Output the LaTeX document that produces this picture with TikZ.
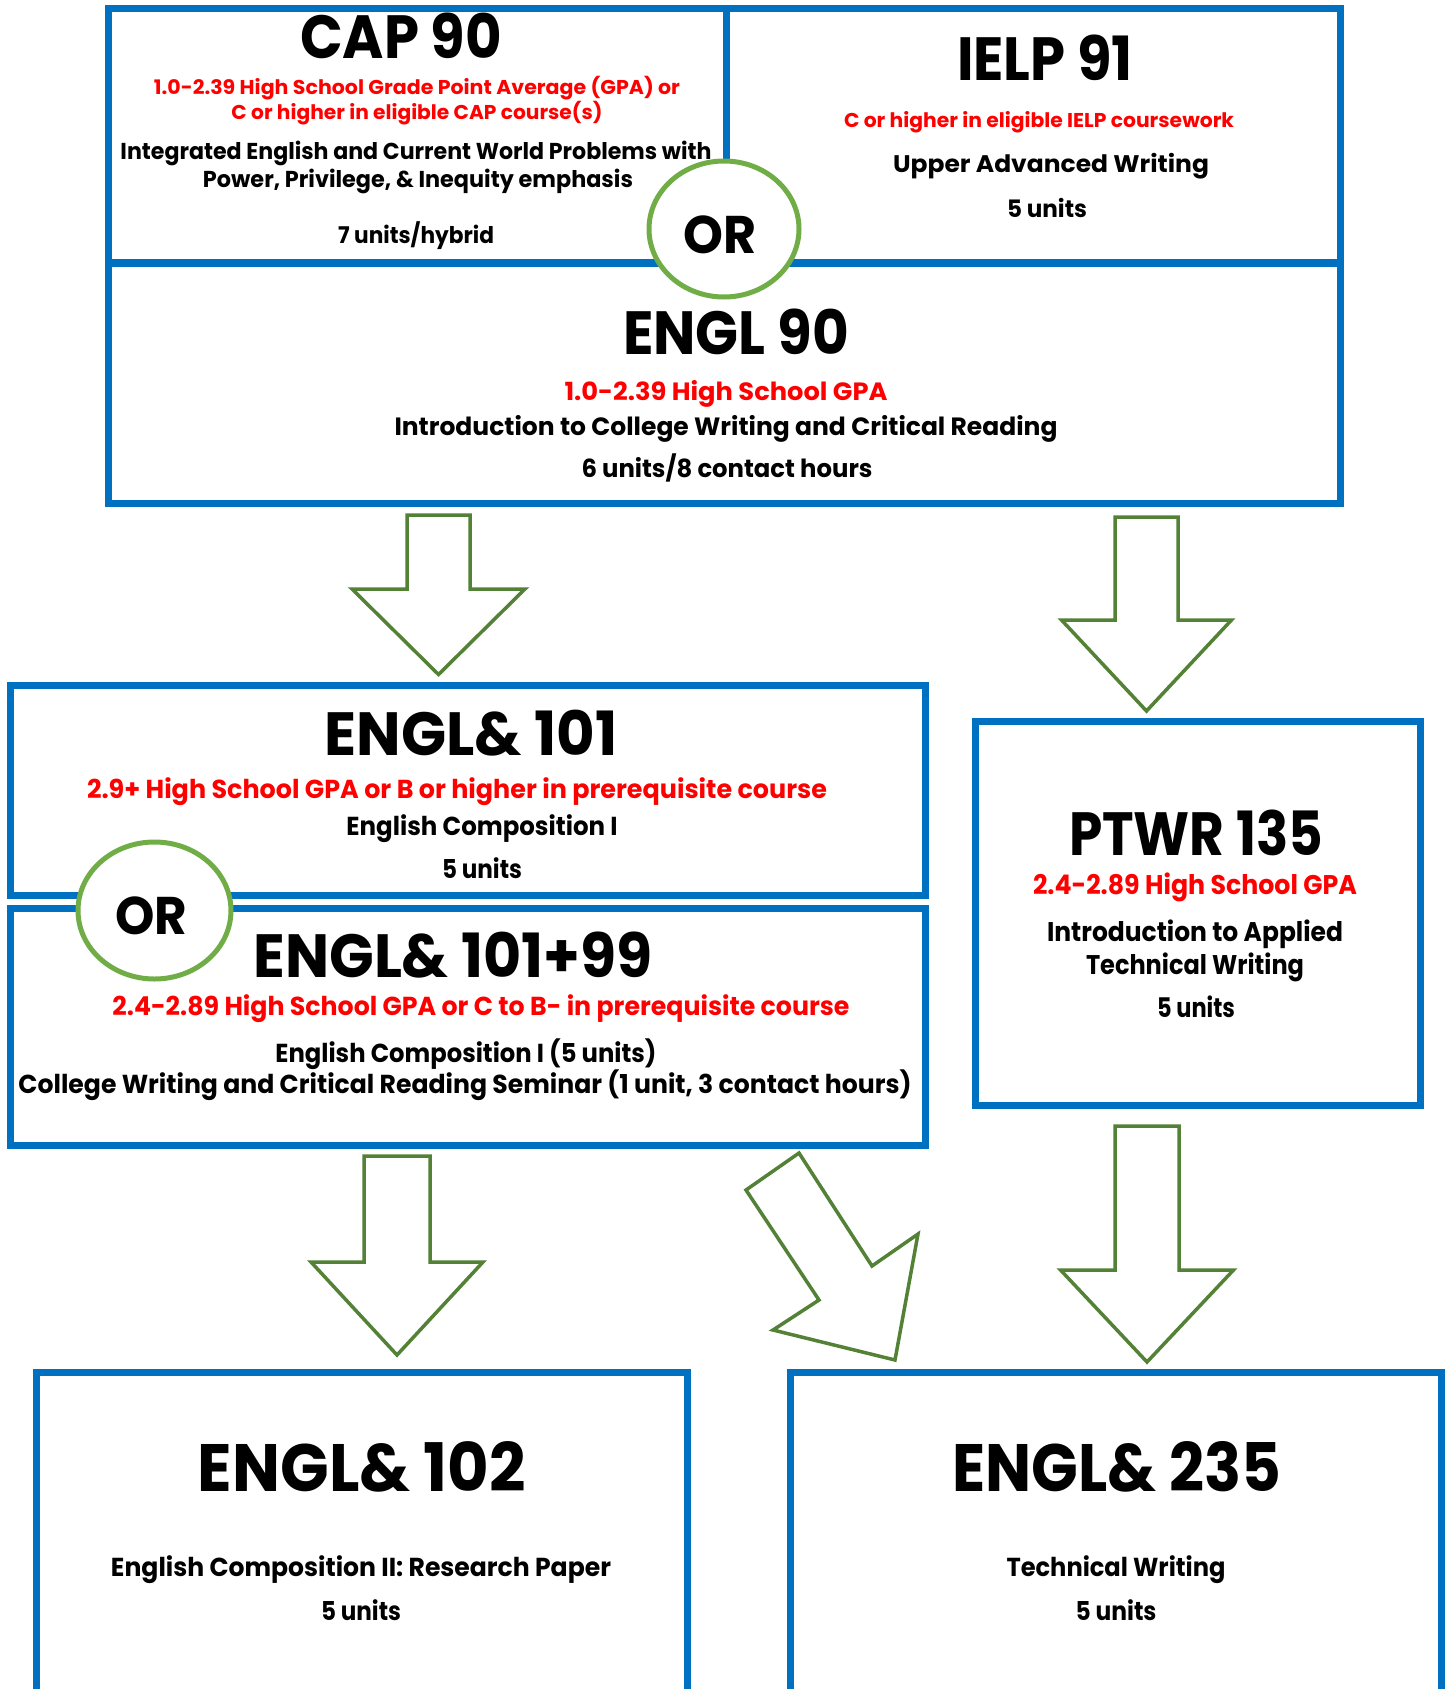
\documentclass[tikz,border=0pt]{standalone}
\usepackage{fontspec}
\setmainfont{Poppins}
\usepackage{graphicx}
\usetikzlibrary{shapes.geometric}
\definecolor{boxblue}{HTML}{0070C0}
\definecolor{orgreen}{HTML}{70AD47}
\definecolor{arrgreen}{HTML}{538135}
\definecolor{reqred}{HTML}{FF0000}
\newcommand\fitw[2]{\resizebox{#1pt}{\height}{#2}}
\newcommand\dblk[6]{\draw[blk] (#1-#3,#2) -- (#1+#3,#2) -- (#1+#3,#4) -- (#1+#5,#4) -- (#1,#6) -- (#1-#5,#4) -- (#1-#3,#4) -- cycle;}
\tikzset{
  cbox/.style={draw=boxblue, line width=7pt, rectangle, inner sep=0pt, outer sep=0pt},
  orc/.style={draw=orgreen, line width=5pt, fill=white, ellipse, inner sep=0pt},
  blk/.style={draw=arrgreen, line width=3.5pt, fill=white, line join=miter},
  lbl/.style={anchor=base, inner sep=0pt, outer sep=0pt},
  ttl/.style={lbl, font=\fontsize{61}{70}\selectfont\bfseries},
  bigttl/.style={lbl, font=\fontsize{67}{76}\selectfont\bfseries},
  red/.style={text=reqred},
}
\begin{document}
\begin{tikzpicture}[x=1pt,y=-1pt]
\useasboundingbox (0,0) rectangle (1447,1689);
\clip (0,0) rectangle (1447,1689);
% boxes
\node[cbox, minimum width=618pt, minimum height=254pt] (capbox) at (417,135) {};
\node[cbox, minimum width=614pt, minimum height=254pt] (ielpbox) at (1033,135) {};
\node[cbox, minimum width=1232pt, minimum height=240pt] (e90box) at (724,383) {};
\node[cbox, minimum width=915pt, minimum height=210pt] (e101box) at (467.5,790) {};
\node[cbox, minimum width=915pt, minimum height=237pt] (e199box) at (467.5,1026.5) {};
\node[cbox, minimum width=445pt, minimum height=384pt] (ptwrbox) at (1197.5,913) {};
\node[cbox, minimum width=651pt, minimum height=348pt] (e102box) at (361.5,1546) {};
\node[cbox, minimum width=651pt, minimum height=348pt] (e235box) at (1115.5,1546) {};
% OR circles
\node[orc, minimum width=150pt, minimum height=136pt] (or1) at (724,229) {};
\node[orc, minimum width=153pt, minimum height=137pt] (or2) at (154.5,910.5) {};
\node[lbl, font=\fontsize{53}{60}\selectfont\bfseries] (or1t) at (720,253) {\fitw{73}{OR}};
\node[lbl, font=\fontsize{53}{60}\selectfont\bfseries] (or2t) at (151,934) {\fitw{72}{OR}};
% arrows
\dblk{438.5}{515}{31.5}{589}{86.5}{674.5}
\dblk{1146.5}{517}{31.5}{620}{85}{711}
\dblk{397}{1156}{33}{1262}{86}{1355}
\dblk{1147}{1126}{32}{1270}{86.5}{1362}
\draw[blk] (799,1153) -- (872,1266) -- (918,1234) -- (895,1360) -- (773,1330) -- (819,1300) -- (746,1190) -- cycle;
% CAP 90
\node[ttl] (capt) at (401,58) {\fitw{202}{CAP 90}};
\node[lbl, red, font=\fontsize{20}{24}\selectfont\bfseries] (capr1) at (417,94) {\fitw{526}{1.0-2.39 High School Grade Point Average (GPA) or}};
\node[lbl, red, font=\fontsize{20}{24}\selectfont\bfseries] (capr2) at (417,119.5) {\fitw{371}{C or higher in eligible CAP course(s)}};
\node[lbl, font=\fontsize{23}{27}\selectfont\bfseries] (capb1) at (416,159) {\fitw{591}{Integrated English and Current World Problems with}};
\node[lbl, font=\fontsize{23}{27}\selectfont\bfseries] (capb2) at (418,187) {\fitw{430}{Power, Privilege, \& Inequity emphasis}};
\node[lbl, font=\fontsize{23}{27}\selectfont\bfseries] (capu) at (416,243) {\fitw{156}{7 units/hybrid}};
% IELP 91
\node[ttl] (ielpt) at (1045,80) {\fitw{176}{IELP 91}};
\node[lbl, red, font=\fontsize{20}{24}\selectfont\bfseries] (ielpr) at (1039,127.5) {\fitw{390}{C or higher in eligible IELP coursework}};
\node[lbl, font=\fontsize{24}{28}\selectfont\bfseries] (ielpb) at (1051,172) {\fitw{316}{Upper Advanced Writing}};
\node[lbl, font=\fontsize{24}{28}\selectfont\bfseries] (ielpu) at (1047,217) {\fitw{80}{5 units}};
% ENGL 90
\node[ttl] (e90t) at (736,354) {\fitw{226}{ENGL 90}};
\node[lbl, red, font=\fontsize{25}{29}\selectfont\bfseries] (e90r) at (726,400) {\fitw{323}{1.0-2.39 High School GPA}};
\node[lbl, font=\fontsize{25}{29}\selectfont\bfseries] (e90b) at (726,435) {\fitw{663}{Introduction to College Writing and Critical Reading}};
\node[lbl, font=\fontsize{25}{29}\selectfont\bfseries] (e90u) at (727,477) {\fitw{291}{6 units/8 contact hours}};
% ENGL& 101
\node[ttl] (e101t) at (471,755) {\fitw{293}{ENGL\& 101}};
\node[lbl, red, font=\fontsize{26}{30}\selectfont\bfseries] (e101r) at (457,798) {\fitw{740}{2.9+ High School GPA or B or higher in prerequisite course}};
\node[lbl, font=\fontsize{26}{30}\selectfont\bfseries] (e101b) at (482,835) {\fitw{271}{English Composition I}};
\node[lbl, font=\fontsize{26}{30}\selectfont\bfseries] (e101u) at (482,878) {\fitw{80}{5 units}};
% ENGL& 101+99
\node[ttl] (e199t) at (453,977) {\fitw{399}{ENGL\& 101+99}};
\node[lbl, red, font=\fontsize{26}{30}\selectfont\bfseries] (e199r) at (481,1015) {\fitw{737}{2.4-2.89 High School GPA or C to B- in prerequisite course}};
\node[lbl, font=\fontsize{26}{30}\selectfont\bfseries] (e199b1) at (466,1062) {\fitw{381}{English Composition I (5 units)}};
\node[lbl, font=\fontsize{26}{30}\selectfont\bfseries] (e199b2) at (465,1093) {\fitw{893}{College Writing and Critical Reading Seminar (1 unit, 3 contact hours)}};
% PTWR 135
\node[ttl] (ptwrt) at (1196,855) {\fitw{254}{PTWR 135}};
\node[lbl, red, font=\fontsize{27}{31}\selectfont\bfseries] (ptwrr) at (1195,894) {\fitw{324}{2.4-2.89 High School GPA}};
\node[lbl, font=\fontsize{27}{31}\selectfont\bfseries] (ptwrb1) at (1195,941) {\fitw{296}{Introduction to Applied}};
\node[lbl, font=\fontsize{27}{31}\selectfont\bfseries] (ptwrb2) at (1195,974) {\fitw{218}{Technical Writing}};
\node[lbl, font=\fontsize{27}{31}\selectfont\bfseries] (ptwru) at (1196,1017.5) {\fitw{78}{5 units}};
% ENGL& 102
\node[bigttl] (e102t) at (362,1491) {\fitw{328}{ENGL\& 102}};
\node[lbl, font=\fontsize{26}{30}\selectfont\bfseries] (e102b) at (361,1576) {\fitw{500}{English Composition II: Research Paper}};
\node[lbl, font=\fontsize{26}{30}\selectfont\bfseries] (e102u) at (361,1620) {\fitw{80}{5 units}};
% ENGL& 235
\node[bigttl] (e235t) at (1117,1491) {\fitw{329}{ENGL\& 235}};
\node[lbl, font=\fontsize{26}{30}\selectfont\bfseries] (e235b) at (1116,1576) {\fitw{219}{Technical Writing}};
\node[lbl, font=\fontsize{26}{30}\selectfont\bfseries] (e235u) at (1116,1620) {\fitw{81}{5 units}};
\end{tikzpicture}
\end{document}
